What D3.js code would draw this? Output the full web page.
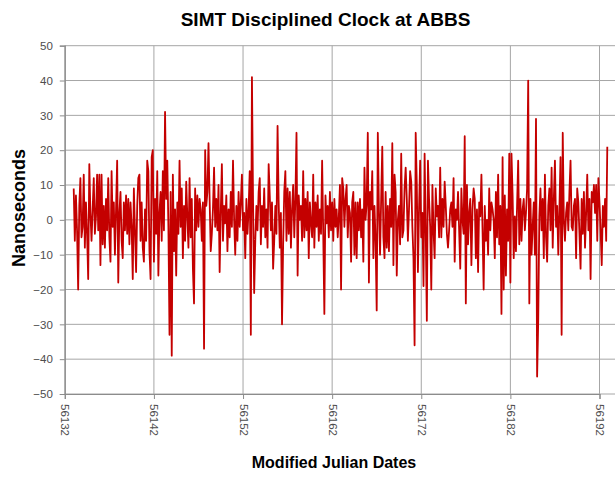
<!DOCTYPE html>
<html>
<head>
<meta charset="utf-8">
<script src="https://cdn.jsdelivr.net/npm/d3@7/dist/d3.min.js"></script>
<style>
  html, body { margin: 0; padding: 0; background: #ffffff; }
  svg { display: block; }
</style>
</head>
<body>
<div id="chart"></div>
<script>
// --- Data: clock offset in ns, 8 samples per day, one array per 10 days ---
const startMJD = 56133;
const samplesPerDay = 8;

const mjd56133to56142 = [
  9, -6, 7, -3, -20, 4, 12, -5,
  -2, 13, -8, 5, -4, -17, 16, 2,
  -6, 3, 12, -4, 1, 13, -3, 13,
  -13, 13, -7, 4, -8, 6, -3, 12,
  -5, -12, 14, -2, 5, -10, 3, 17,
  -18, 2, 8, -6, -11, 5, -3, 7,
  -4, 6, -7, 5, -2, -17, 9, -3,
  -15, 4, 12, 13, -6, 5, -8, -12,
  3, -6, 17, 14, -9, -17, 18, 20,
  -12, 6, -4, 14, -16, 2, 8, -6
];
const mjd56143to56152 = [
  14, -3, 31, 6, 17, -2, -33, 8,
  -39, 13, -9, 3, -16, 5, -4, 17,
  -2, 9, -11, 4, -6, 11, 1, -8,
  12, -5, 6, -14, -24, 9, -3, 7,
  -2, 6, 3, -6, 5, -37, 20, 4,
  8, 22, 6, -9, -4, 3, 15, -2,
  6, -3, 10, -15, 2, 16, -6, 4,
  -1, 7, -9, 3, -5, 8, -2, 17,
  0, -10, 4, -6, 8, -2, 5, 13,
  -3, 2, -11, 6, -4, 3, 14, -33
];
const mjd56153to56162 = [
  41, 5, -21, -6, 4, -3, 8, 12,
  -7, 4, -2, 9, -5, 3, -8, 16,
  7, -3, 5, -14, -6, 4, -4, 27,
  5, -8, 2, -30, -7, 8, 14, -6,
  9, -4, 8, -8, 3, 10, -5, 6,
  25, -16, 7, 0, 4, -6, 14, -5,
  6, -3, 8, -11, 5, -1, -5, 13,
  -8, 5, -2, 7, -6, 3, -4, 17,
  -4, -27, 7, -1, 4, -5, 8, -3,
  5, -6, 6, -2, 3, -5, 1, 10
];
const mjd56163to56172 = [
  -20, 12, 9, -2, 6, 10, -5, 4,
  2, -12, 5, 8, -10, 5, -11, 5,
  -3, 6, -5, 3, -12, 15, 0, 5,
  25, -18, 8, 3, 14, -11, 4, -6,
  -26, 25, 3, -10, 6, 21, -5, -11,
  8, -8, 4, -9, 6, -2, 22, -13,
  13, 8, -16, 0, 4, -7, 19, -5,
  -3, 9, 15, 6, -6, 3, 14, 11,
  -2, -11, -36, 25, 10, -15, 3, 17,
  -5, 2, -19, 19, -3, -29, 17, 6
];
const mjd56173to56182 = [
  -2, -20, 10, -3, -11, 9, 1, 4,
  -5, 15, -5, 6, -2, 11, 4, -4,
  -8, -3, 3, 5, -2, 12, -12, 3,
  0, 8, -3, -14, 9, 0, -4, 24,
  -24, 10, -7, 2, 6, -13, 3, 9,
  6, -11, 3, -15, 5, 1, 13, -3,
  -20, 4, -6, 0, -10, 9, -3, 5,
  3, 0, -11, 8, -5, 13, -7, 4,
  -27, 18, -20, 7, -16, 3, -6, 19,
  -18, 19, 7, -11, 1, -9, 4, 17
];
const mjd56183to56192 = [
  -7, 6, -6, 3, 6, -3, 2, 9,
  40, -24, 6, -10, -2, 5, -10, 29,
  -45, -29, 1, 9, -3, 6, -11, 13,
  -5, -12, 4, 9, -3, 15, -8, 6,
  17, -2, 4, -10, 3, 18, -33, 25,
  0, -6, 2, 5, -3, 8, 17, -2,
  -3, 4, 6, -11, 9, 5, -4, -14,
  6, -4, 8, -8, 2, 13, -3, 6,
  -17, 8, 5, 10, 2, 10, -6, 12,
  5, -3, -13, 4, -2, 6, -6, 21
];

const xTicks = [56132, 56142, 56152, 56162, 56172, 56182, 56192];
const yTicks = [-50, -40, -30, -20, -10, 0, 10, 20, 30, 40, 50];

const nsValues = [
  ...mjd56133to56142, ...mjd56143to56152, ...mjd56153to56162,
  ...mjd56163to56172, ...mjd56173to56182, ...mjd56183to56192
];
const series = nsValues.map((v, i) => ({ mjd: startMJD + i / samplesPerDay, ns: v }));

// --- Layout ---
const width = 615, height = 477;
const plotLeft = 64.8, plotTop = 45.7, plotBottom = 394;
const font = "'Liberation Sans', Arial, sans-serif";

const svg = d3.select("#chart")
  .append("svg")
  .attr("width", width)
  .attr("height", height);

// --- Scales ---
const x = d3.scaleLinear()
  .domain([56132, 56192])
  .range([plotLeft, 599.5]);
const plotRight = x(56194);

const y = d3.scaleLinear()
  .domain([-50, 50])
  .range([plotBottom, plotTop]);

// --- Grid lines ---
svg.append("g")
  .selectAll("line")
  .data(yTicks)
  .join("line")
  .attr("x1", plotLeft).attr("x2", plotRight)
  .attr("y1", d => y(d)).attr("y2", d => y(d))
  .style("stroke", "#a6a6a6")
  .style("stroke-width", 1);

svg.append("g")
  .selectAll("line")
  .data(xTicks)
  .join("line")
  .attr("x1", d => x(d)).attr("x2", d => x(d))
  .attr("y1", plotTop).attr("y2", plotBottom)
  .style("stroke", "#a6a6a6")
  .style("stroke-width", 1);

// --- Axes ---
const yAxis = svg.append("g")
  .attr("transform", `translate(${plotLeft},0)`)
  .call(d3.axisLeft(y).tickValues(yTicks).tickSize(5).tickPadding(7));

const xAxis = svg.append("g")
  .attr("transform", `translate(0,${plotBottom})`)
  .call(d3.axisBottom(x).tickValues(xTicks).tickSize(5).tickFormat(d3.format("d")));

[yAxis, xAxis].forEach(g => {
  g.select(".domain").style("stroke", "#8c8c8c").style("stroke-width", 1.2);
  g.selectAll(".tick line").style("stroke", "#8c8c8c");
  g.selectAll("text")
    .style("font-family", font)
    .style("font-size", "11.5px")
    .style("fill", "#4d4d4d");
});

xAxis.selectAll("text")
  .attr("transform", "rotate(90)")
  .attr("x", 10)
  .attr("y", 0)
  .attr("dy", "0.35em")
  .style("text-anchor", "start");

// --- The series line ---
svg.append("path")
  .datum(series)
  .attr("d", d3.line().x(d => x(d.mjd)).y(d => y(d.ns)))
  .style("fill", "none")
  .style("stroke", "#c40000")
  .style("stroke-width", 1.8)
  .style("stroke-linejoin", "round");

// --- Titles ---
svg.append("text")
  .text("SIMT Disciplined Clock at ABBS")
  .attr("x", 325.5)
  .attr("y", 26)
  .attr("text-anchor", "middle")
  .style("font-family", font)
  .style("font-size", "19px")
  .style("font-weight", "bold")
  .style("fill", "#000");

svg.append("text")
  .text("Nanoseconds")
  .attr("transform", `translate(25,208) rotate(-90)`)
  .attr("text-anchor", "middle")
  .style("font-family", font)
  .style("font-size", "18px")
  .style("font-weight", "bold")
  .style("fill", "#000");

svg.append("text")
  .text("Modified Julian Dates")
  .attr("x", 334)
  .attr("y", 468)
  .attr("text-anchor", "middle")
  .style("font-family", font)
  .style("font-size", "16px")
  .style("font-weight", "bold")
  .style("fill", "#000");
</script>
</body>
</html>
